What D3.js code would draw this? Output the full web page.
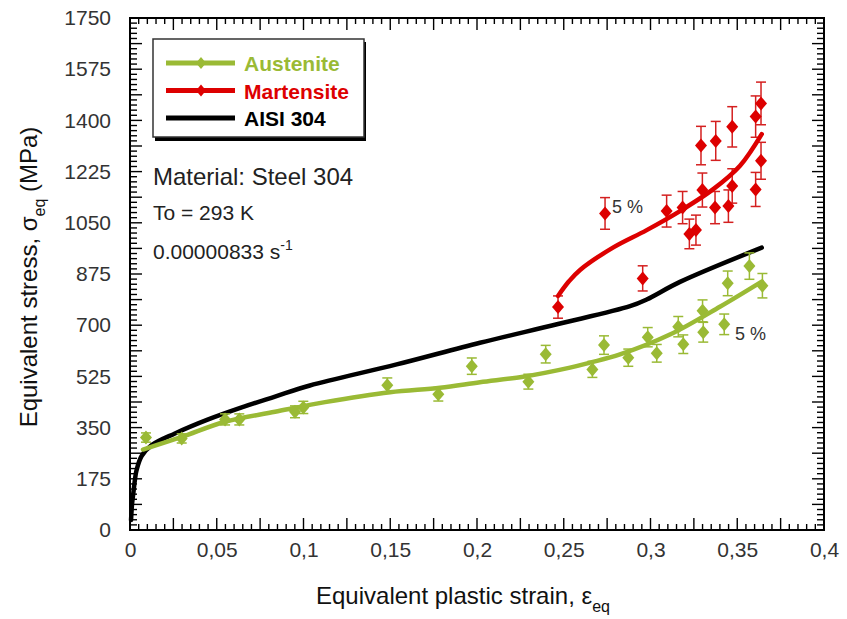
<!DOCTYPE html>
<html>
<head>
<meta charset="utf-8">
<script src="https://cdn.jsdelivr.net/npm/d3@7"></script>
<style>
  body { margin: 0; background: #fff; }
  text { font-family: "Liberation Sans", Arial, sans-serif; }
</style>
</head>
<body>
<svg></svg>
<script>
var width = 847;
var height = 619;

// data
var xTicks = [0, 0.05, 0.1, 0.15, 0.2, 0.25, 0.3, 0.35, 0.4];
var xTickLabels = ["0", "0,05", "0,1", "0,15", "0,2", "0,25", "0,3", "0,35", "0,4"];
var yTicks = [0, 175, 350, 525, 700, 875, 1050, 1225, 1400, 1575, 1750];

var austeniteStrain = [0.0092, 0.0298, 0.0548, 0.063, 0.0951, 0.0999, 0.1483, 0.1777, 0.197, 0.2296,
                       0.2396, 0.2665, 0.2732, 0.2872, 0.2984, 0.3036, 0.316, 0.3189, 0.330, 0.3304,
                       0.3425, 0.3445, 0.357, 0.3645];
var austeniteStress = [316, 313, 378, 378, 404, 419, 495, 464, 560, 507,
                       601, 549, 632, 589, 659, 604, 695, 635, 749, 676,
                       703, 843, 902, 835];

var martensiteStrain = [0.2467, 0.2738, 0.2955, 0.3093, 0.3185, 0.3224, 0.3262, 0.3291, 0.3299, 0.3376,
                        0.3372, 0.3449, 0.3471, 0.3471, 0.3606, 0.3606, 0.3637, 0.3637];
var martensiteStress = [762, 1082, 860, 1090, 1102, 1012, 1025, 1314, 1162, 1330,
                        1102, 1107, 1378, 1176, 1413, 1164, 1458, 1262];

var errPct = 0.05; // "5 %" error bars

var austeniteFitX = [0.0075, 0.0298, 0.0548, 0.0836, 0.1124, 0.1499, 0.1787, 0.2017, 0.2267, 0.2536,
                     0.2651, 0.2824, 0.3112, 0.34, 0.3641];
var austeniteFitY = [275, 318, 370, 404, 437, 471, 486, 505, 524, 555,
                     572, 600, 668, 763, 849];

var martensiteFitX = [0.2467, 0.2530, 0.2594, 0.2786, 0.2978, 0.317, 0.3362, 0.3516, 0.3641];
var martensiteFitY = [800, 850, 889, 966, 1025, 1090, 1165, 1245, 1353];

var aisiX = [0.0006, 0.0012, 0.0019, 0.0028, 0.0038, 0.0067, 0.0125, 0.0259, 0.0451, 0.0644,
             0.0836, 0.1037, 0.1537, 0.2017, 0.2467, 0.2882, 0.2978, 0.317, 0.3641];
var aisiY = [34, 90, 125, 170, 205, 253, 290, 330, 378, 419,
             456, 494, 566, 640, 704, 765, 788, 848, 965];

var green = "#9aba35";
var red = "#dd0000";

var svg = d3.select("svg")
  .attr("width", width)
  .attr("height", height);

var x = d3.scaleLinear().domain([0, 0.4]).range([130, 824]);
var y = d3.scaleLinear().domain([0, 1750]).range([530, 18]);

// minor / major ticks, pointing inward on all four sides
var xMinor = d3.range(0, 0.4001, 0.005);
var yMinor = d3.range(0, 1750.1, 17.5);

var ticks = svg.append("g");
xMinor.forEach((v, i) => {
  var len = i % 5 === 0 ? 12 : 6;
  ticks.append("line").attr("x1", x(v)).attr("x2", x(v)).attr("y1", 530).attr("y2", 530 - len);
  ticks.append("line").attr("x1", x(v)).attr("x2", x(v)).attr("y1", 18).attr("y2", 18 + len);
});
yMinor.forEach((v, i) => {
  var len = i % 5 === 0 ? 12 : 7;
  ticks.append("line").attr("y1", y(v)).attr("y2", y(v)).attr("x1", 130).attr("x2", 130 + len);
  ticks.append("line").attr("y1", y(v)).attr("y2", y(v)).attr("x1", 824).attr("x2", 824 - len);
});
ticks.selectAll("line").attr("stroke", "#000").attr("stroke-width", 1.4);

// tick labels
var xAxis = svg.append("g")
  .attr("transform", "translate(0,530)")
  .call(d3.axisBottom(x).tickValues(xTicks).tickSize(0).tickPadding(12)
    .tickFormat((d, i) => xTickLabels[i]));
xAxis.select(".domain").remove();
xAxis.selectAll("text").attr("font-size", 21).attr("fill", "#333")
  .style("font-family", '"Liberation Sans", Arial, sans-serif');

var yAxis = svg.append("g")
  .attr("transform", "translate(130,0)")
  .call(d3.axisLeft(y).tickValues(yTicks).tickSize(0).tickPadding(19)
    .tickFormat(d3.format("d")));
yAxis.select(".domain").remove();
yAxis.selectAll("text").attr("font-size", 21).attr("fill", "#333")
  .style("font-family", '"Liberation Sans", Arial, sans-serif');

// frame
svg.append("rect")
  .attr("x", 130).attr("y", 18)
  .attr("width", 694).attr("height", 512)
  .attr("fill", "none").attr("stroke", "#000").attr("stroke-width", 2);

// axis titles
var xt = svg.append("text")
  .attr("x", 463).attr("y", 604)
  .attr("text-anchor", "middle")
  .attr("font-size", 24).attr("fill", "#111");
xt.append("tspan").text("Equivalent plastic strain, \u03b5");
xt.append("tspan").attr("font-size", 16).attr("dy", 8).text("eq");

var yt = svg.append("text")
  .attr("transform", "translate(37,277) rotate(-90)")
  .attr("text-anchor", "middle")
  .attr("font-size", 24).attr("fill", "#111");
yt.append("tspan").text("Equivalent stress, \u03c3");
yt.append("tspan").attr("font-size", 16).attr("dy", 8).text("eq");
yt.append("tspan").attr("dy", -8).text(" (MPa)");

// curves
var line = d3.line()
  .x(d => x(d[0]))
  .y(d => y(d[1]))
  .curve(d3.curveCatmullRom.alpha(0.5));

function curve(xs, ys, color) {
  svg.append("path")
    .datum(xs.map((v, i) => [v, ys[i]]))
    .attr("d", line)
    .attr("fill", "none")
    .attr("stroke", color)
    .attr("stroke-width", 4.5)
    .attr("stroke-linecap", "round");
}

function diamond(cx, cy, w, h) {
  return "M" + cx + "," + (cy - h) + "L" + (cx + w) + "," + cy +
         "L" + cx + "," + (cy + h) + "L" + (cx - w) + "," + cy + "Z";
}

function points(xs, ys, color, barColor) {
  var pts = xs.map((v, i) => ({ x: v, y: ys[i] }));
  var g = svg.append("g");
  var bars = g.selectAll(".bar").data(pts).enter().append("g");
  bars.append("line")
    .attr("x1", d => x(d.x)).attr("x2", d => x(d.x))
    .attr("y1", d => y(d.y * (1 - errPct))).attr("y2", d => y(d.y * (1 + errPct)));
  bars.append("line")
    .attr("x1", d => x(d.x) - 5).attr("x2", d => x(d.x) + 5)
    .attr("y1", d => y(d.y * (1 - errPct))).attr("y2", d => y(d.y * (1 - errPct)));
  bars.append("line")
    .attr("x1", d => x(d.x) - 5).attr("x2", d => x(d.x) + 5)
    .attr("y1", d => y(d.y * (1 + errPct))).attr("y2", d => y(d.y * (1 + errPct)));
  bars.selectAll("line").attr("stroke", barColor).attr("stroke-width", 1.5);
  g.selectAll(".pt").data(pts).enter().append("path")
    .attr("d", d => diamond(x(d.x), y(d.y), 6, 7))
    .attr("fill", color);
}

curve(aisiX, aisiY, "#000");
points(austeniteStrain, austeniteStress, green, green);
curve(austeniteFitX, austeniteFitY, green);
points(martensiteStrain, martensiteStress, red, "#d42020");
curve(martensiteFitX, martensiteFitY, red);

// "5 %" notes
svg.append("text").attr("x", 612).attr("y", 213).attr("font-size", 18).attr("fill", "#333").text("5 %");
svg.append("text").attr("x", 735).attr("y", 340).attr("font-size", 18).attr("fill", "#333").text("5 %");

// legend
var legend = svg.append("g");
legend.append("rect")
  .attr("x", 155).attr("y", 42).attr("width", 211).attr("height", 99)
  .attr("fill", "#000");
legend.append("rect")
  .attr("x", 153).attr("y", 39).attr("width", 211).attr("height", 98)
  .attr("fill", "#fff").attr("stroke", "#333").attr("stroke-width", 1.5);

var legendItems = [
  { label: "Austenite", color: green, marker: true },
  { label: "Martensite", color: red, marker: true },
  { label: "AISI 304", color: "#000", marker: false }
];
legendItems.forEach((d, i) => {
  var ly = 63 + i * 27.5;
  legend.append("line")
    .attr("x1", 166).attr("x2", 235).attr("y1", ly).attr("y2", ly)
    .attr("stroke", d.color).attr("stroke-width", 5);
  if (d.marker) {
    legend.append("path").attr("d", diamond(201, ly, 5, 6)).attr("fill", d.color);
  }
  legend.append("text")
    .attr("x", 244).attr("y", ly + 8)
    .attr("font-size", 21).attr("font-weight", "bold")
    .attr("fill", d.color)
    .text(d.label);
});

// material notes
svg.append("text").attr("x", 153).attr("y", 185).attr("font-size", 24).attr("fill", "#222")
  .text("Material: Steel 304");
svg.append("text").attr("x", 153).attr("y", 220).attr("font-size", 21).attr("fill", "#222")
  .text("To = 293 K");
var rate = svg.append("text").attr("x", 153).attr("y", 259).attr("font-size", 21).attr("fill", "#222");
rate.append("tspan").text("0.00000833 s");
rate.append("tspan").attr("font-size", 14).attr("dy", -9).text("-1");
</script>
</body>
</html>
